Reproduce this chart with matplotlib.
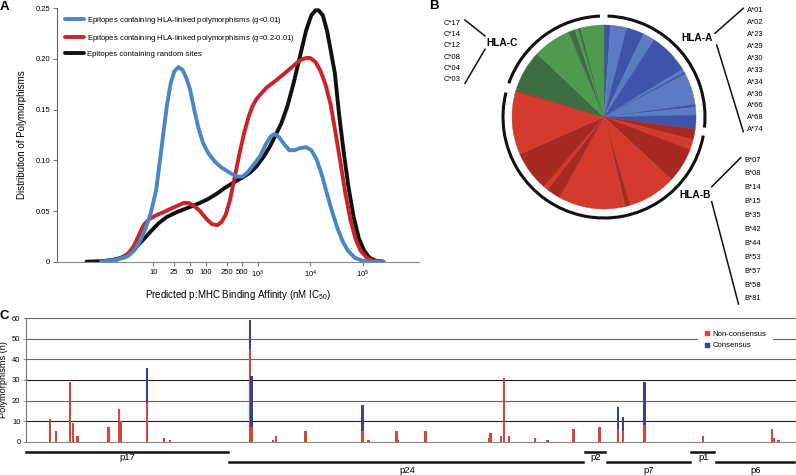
import numpy as np
import matplotlib
matplotlib.use('Agg')
import matplotlib.pyplot as plt
from matplotlib.patches import Arc
from matplotlib.lines import Line2D
from matplotlib.transforms import blended_transform_factory

plt.rcParams['font.family'] = ['Liberation Sans', 'DejaVu Sans']
plt.rcParams['mathtext.fontset'] = 'custom'
plt.rcParams['mathtext.rm'] = 'Liberation Sans'
plt.rcParams['mathtext.it'] = 'Liberation Sans:italic'

# ---- data: panel A (log10 affinity, density) ----
blue_logx = [0.0, 0.3, 0.5, 0.65, 0.75, 0.85, 0.95, 1.05, 1.12, 1.19, 1.26, 1.33, 1.40, 1.48,
             1.56, 1.63, 1.70, 1.78, 1.86, 1.95, 2.05, 2.17, 2.30, 2.45, 2.60, 2.70, 2.80,
             2.92, 3.04, 3.15, 3.25, 3.32, 3.40, 3.50, 3.60, 3.70, 3.80, 3.92, 4.02, 4.12,
             4.22, 4.32, 4.42, 4.52, 4.62, 4.72, 4.85, 5.0, 5.2, 5.4]
blue_y = [0.0, 0.002, 0.005, 0.012, 0.021, 0.033, 0.048, 0.070, 0.098, 0.127, 0.155, 0.176,
          0.188, 0.192, 0.189, 0.181, 0.170, 0.150, 0.132, 0.117, 0.107, 0.099, 0.093, 0.088,
          0.084, 0.084, 0.088, 0.096, 0.104, 0.116, 0.124, 0.126, 0.123, 0.116, 0.110, 0.110,
          0.112, 0.113, 0.110, 0.101, 0.086, 0.067, 0.049, 0.033, 0.020, 0.011, 0.004, 0.001,
          0.0, 0.0]
red_logx = [0.0, 0.3, 0.5, 0.62, 0.72, 0.81, 0.92, 1.06, 1.2, 1.32, 1.45, 1.58, 1.67, 1.78,
            1.89, 2.0, 2.12, 2.22, 2.30, 2.38, 2.46, 2.53, 2.60, 2.66, 2.74, 2.82, 2.90, 2.98,
            3.08, 3.17, 3.30, 3.49, 3.65, 3.81, 3.92, 4.00, 4.10, 4.19, 4.29, 4.39, 4.48,
            4.58, 4.67, 4.77, 4.87, 4.96, 5.08, 5.2, 5.4]
red_y = [0.0, 0.002, 0.007, 0.015, 0.026, 0.036, 0.042, 0.046, 0.049, 0.052, 0.055, 0.058,
         0.058, 0.055, 0.050, 0.043, 0.037, 0.036, 0.039, 0.046, 0.060, 0.077, 0.095, 0.110,
         0.128, 0.143, 0.154, 0.161, 0.167, 0.172, 0.177, 0.185, 0.192, 0.199, 0.201, 0.201,
         0.197, 0.189, 0.175, 0.155, 0.128, 0.097, 0.068, 0.041, 0.022, 0.011, 0.004, 0.001,
         0.0]
black_logx = [-0.28, 0.0, 0.2, 0.4, 0.55, 0.7, 0.81, 0.95, 1.1, 1.25, 1.45, 1.65, 1.89, 2.05,
              2.21, 2.37, 2.53, 2.70, 2.85, 2.97, 3.10, 3.22, 3.32, 3.45, 3.56, 3.68, 3.81,
              3.92, 4.02, 4.10, 4.16, 4.24, 4.32, 4.40, 4.47, 4.55, 4.64, 4.73, 4.83, 4.93,
              5.03, 5.13, 5.25, 5.4]
black_y = [0.0, 0.0005, 0.0016, 0.004, 0.009, 0.016, 0.022, 0.030, 0.038, 0.044, 0.049, 0.053,
           0.058, 0.062, 0.067, 0.073, 0.078, 0.083, 0.088, 0.094, 0.103, 0.113, 0.123, 0.137,
           0.153, 0.176, 0.204, 0.228, 0.243, 0.248, 0.248, 0.243, 0.228, 0.206, 0.186, 0.146,
           0.108, 0.074, 0.044, 0.023, 0.011, 0.004, 0.001, 0.0]
curve_labels = ['Epitopes containing HLA-linked polymorphisms ($\\it{q}$<0.01)',
                'Epitopes containing HLA-linked polymorphisms ($\\it{q}$=0.2-0.01)',
                'Epitopes containing random sites']
aff_ticks = [10, 25, 50, 100, 250, 500, 1e3, 1e4, 1e5]
aff_ticklabels = ['10', '25', '50', '100', '250', '500', '$10^3$', '$10^4$', '$10^5$']
dens_ticks = [0, 0.05, 0.10, 0.15, 0.20, 0.25]
dens_ticklabels = ['0', '0.05', '0.10', '0.15', '0.20', '0.25']

# ---- data: panel B (slice share in degrees, clockwise from top) ----
hla_a = ['A*01', 'A*02', 'A*23', 'A*29', 'A*30', 'A*33', 'A*34', 'A*36', 'A*66', 'A*68', 'A*74']
hla_b = ['B*07', 'B*08', 'B*14', 'B*15', 'B*35', 'B*42', 'B*44', 'B*53', 'B*57', 'B*58', 'B*81']
hla_c = ['C*17', 'C*14', 'C*12', 'C*08', 'C*04', 'C*03']
share_a = [4.2, 10.1, 11.1, 7.6, 25.8, 2.0, 1.5, 19.8, 1.8, 4.85, 8.95]
share_b = [6.6, 6.5, 22.1, 30.6, 3.2, 42.2, 9.1, 3.0, 25.2, 40.0, 0.9]
share_c = [14.7, 1.6, 2.1, 4.3, 23.9, 26.3]   # in hla_c order

# ---- data: panel C (Gag positions) ----
site_pos = [16, 20, 29, 31, 34, 54, 61, 62, 79, 90, 94, 146, 147, 161, 163, 182, 219, 223,
            241, 242, 260, 301, 302, 309, 311, 314, 331, 339, 356, 373, 385, 388, 402, 440,
            485, 486, 489]
non_consensus = [11, 5, 29, 9, 3, 7, 16, 10, 19, 2, 1, 45, 7, 1, 3, 5, 5, 1, 5, 1, 5, 2, 4, 3,
                 31, 3, 2, 1, 6, 7, 6, 5, 8, 3, 6, 2, 1]
consensus = [0, 0, 0, 0, 0, 0, 0, 0, 17, 0, 0, 14, 25, 0, 0, 0, 13, 0, 0, 0, 0, 0, 0, 0,
             0, 0, 0, 0, 0, 0, 11, 7, 21, 0, 0, 0, 0]
gag_names = ['p17', 'p24', 'p2', 'p7', 'p1', 'p6']
gag_start = [1, 133, 364, 378, 433, 449]
gag_end = [132, 363, 377, 432, 448, 500]

W, H = 796, 475
fig = plt.figure(figsize=(W / 100, H / 100), dpi=100)


def box(x0, y0, x1, y1):
    return [x0 / W, 1 - y1 / H, (x1 - x0) / W, (y1 - y0) / H]


# ================= Panel A =================
axA = fig.add_axes(box(57, 8.3, 419, 261.7))
cols = {'blue': '#4A86C5', 'red': '#CC2229', 'black': '#111111'}
hb = axA.plot(10 ** np.array(black_logx), black_y, color=cols['black'], lw=2.8,
              solid_capstyle='round', zorder=3)[0]
hr = axA.plot(10 ** np.array(red_logx), red_y, color=cols['red'], lw=2.8,
              solid_capstyle='round', zorder=4)[0]
hbl = axA.plot(10 ** np.array(blue_logx), blue_y, color=cols['blue'], lw=2.8,
               solid_capstyle='round', zorder=5)[0]
axA.set_xscale('log')
axA.set_xlim(10 ** -0.845, 10 ** 6.08)
axA.set_ylim(0, 0.25)
axA.set_xticks(aff_ticks)
axA.set_xticklabels(aff_ticklabels)
axA.minorticks_off()
axA.set_yticks(dens_ticks)
axA.set_yticklabels(dens_ticklabels)
for s in ['top', 'right']:
    axA.spines[s].set_visible(False)
axA.spines['left'].set_color('#666')
axA.spines['bottom'].set_color('#888')
axA.tick_params(labelsize=5.5, length=3, width=0.8, color='#777', pad=2)
axA.set_xlabel('Predicted p:MHC Binding Affinity (nM IC$_{50}$)', fontsize=7, labelpad=6)
axA.set_ylabel('Distribution of Polymorphisms', fontsize=7, labelpad=6)
axA.legend([hbl, hr, hb], curve_labels, loc='upper left', frameon=False, fontsize=5.6,
           handlelength=2.4, handletextpad=0.5, labelspacing=0.85, borderpad=0,
           bbox_to_anchor=(61 / W, 1 - 11 / H), bbox_transform=fig.transFigure)

# ================= Panel B =================
axB = fig.add_axes(box(484, -3, 724, 237))
dark = {'A': '#3E54A8', 'B': '#A62A20', 'C': '#3D6E42'}
light = {'A': '#5C7BC3', 'B': '#D43A2E', 'C': '#4E9A4E'}
sizes, colors = [], []
for g, sh in [('A', share_a), ('B', share_b), ('C', share_c[::-1])]:
    for i, v in enumerate(sh):
        sizes.append(v)
        colors.append(dark[g] if i % 2 == 0 else light[g])
wedges, _ = axB.pie(sizes, colors=colors, startangle=90, counterclock=False, radius=92)
for w in wedges:
    w.set_edgecolor(w.get_facecolor())
    w.set_linewidth(0.3)
for t1, t2 in [(-6, 88), (166, 349.4), (92.3, 160.5)]:
    axB.add_patch(Arc((0, 0), 202, 202, theta1=t1, theta2=t2, lw=2.2, color='#111'))
axB.set_xlim(-120, 120)
axB.set_ylim(-120, 120)
axB.set_aspect('equal')
axB.axis('off')

# ================= Panel C =================
axC = fig.add_axes(box(26, 318.3, 796, 441.7))
red_c, blue_c = '#D4453A', '#3A3F97'
axC.bar(site_pos, non_consensus, width=1.6, color=red_c, lw=0, zorder=3)
axC.bar(site_pos, consensus, bottom=non_consensus, width=1.6, color=blue_c, lw=0, zorder=3)
axC.set_xlim(0.5, 500.5)
axC.set_ylim(0, 60)
axC.set_yticks(range(0, 61, 10))
for t in axC.get_yticks()[1:]:
    axC.axhline(t, color='#222' if t in (10, 30) else '#666', lw=0.8, zorder=1)
axC.set_xticks([])
for s in ['top', 'right']:
    axC.spines[s].set_visible(False)
axC.spines['left'].set_color('#777')
axC.spines['bottom'].set_color('#888')
axC.tick_params(axis='y', labelsize=5.5, length=2, width=0.6, color='#777', pad=2)
axC.set_ylabel('Polymorphisms (n)', fontsize=6.6, labelpad=3)
trans = blended_transform_factory(axC.transData, axC.transAxes)
for i, (nm, s, e) in enumerate(zip(gag_names, gag_start, gag_end)):
    upper = i % 2 == 0
    yl = -0.081 if upper else -0.165
    yt = -0.132 if upper else -0.233
    axC.plot([s - 0.5, e - 0.5], [yl, yl], transform=trans, clip_on=False, color='#111', lw=1.8)
    axC.text((s + e) / 2, yt, nm, transform=trans, ha='center', va='center', fontsize=6.8)
hn = Line2D([], [], marker='s', ls='none', color=red_c, markersize=2.6)
hc = Line2D([], [], marker='s', ls='none', color=blue_c, markersize=2.6)
lg = axC.legend([hn, hc], ['Non-consensus', 'Consensus'], loc='upper left', fontsize=5.6,
                frameon=True, facecolor='white', edgecolor='none', framealpha=1, fancybox=False,
                handlelength=0.6, handletextpad=0.45, borderpad=0.85, labelspacing=0.5,
                bbox_to_anchor=(694 / W, 1 - 320 / H), bbox_transform=fig.transFigure)
lg.set_zorder(5)

# ================= overlay: letters & HLA labels =================
ov = fig.add_axes([0, 0, 1, 1])
ov.set_xlim(0, W)
ov.set_ylim(H, 0)
ov.axis('off')
for txt, x, y in [('A', 4, 7), ('B', 434, 6), ('C', 4, 316)]:
    ov.text(x, y, txt, fontsize=9.5, fontweight='bold', ha='center', va='center')

ov.text(697, 38, 'HLA-A', fontsize=7.3, fontweight='bold', ha='center', va='center')
ov.plot([715, 743.3], [33.3, 8.3], color='#111', lw=1.1)
ov.plot([716.7, 743.3], [45, 131.7], color='#111', lw=1.1)
for i, lab in enumerate(hla_a):
    ov.text(747, 10.7 + i * 11.9, lab, fontsize=5.5, ha='left', va='center')

ov.text(501.7, 43.3, 'HLA-C', fontsize=7.3, fontweight='bold', ha='center', va='center')
ov.plot([465, 485], [20, 36], color='#111', lw=1.1)
ov.plot([485, 465], [49.3, 83.3], color='#111', lw=1.1)
for i, lab in enumerate(hla_c):
    ov.text(461, 23.3 + i * 11.33, lab, fontsize=5.5, ha='right', va='center')

ov.text(695.5, 195, 'HLA-B', fontsize=7.3, fontweight='bold', ha='center', va='center')
ov.plot([711.7, 740.7], [186.7, 157.7], color='#111', lw=1.1)
ov.plot([711.7, 738.5], [201.7, 304], color='#111', lw=1.1)
for i, lab in enumerate(hla_b):
    ov.text(744.3, 160 + i * 13.9, lab, fontsize=5.5, ha='left', va='center')

fig.savefig('out.png', dpi=100)
